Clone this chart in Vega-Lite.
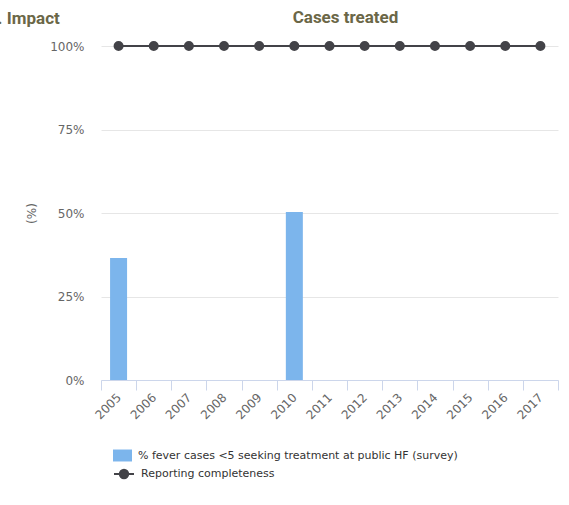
{
  "$schema": "https://vega.github.io/schema/vega-lite/v6.json",
  "width": 457,
  "height": 334,
  "autosize": "none",
  "padding": {"left": 101, "top": 46, "right": 11, "bottom": 125},
  "background": "white",
  "config": {
    "view": {"stroke": null},
    "font": "DejaVu Sans"
  },
  "data": {
    "values": [
      {"year": "2005", "fever": 36.5, "completeness": 100},
      {"year": "2006", "fever": null, "completeness": 100},
      {"year": "2007", "fever": null, "completeness": 100},
      {"year": "2008", "fever": null, "completeness": 100},
      {"year": "2009", "fever": null, "completeness": 100},
      {"year": "2010", "fever": 50.3, "completeness": 100},
      {"year": "2011", "fever": null, "completeness": 100},
      {"year": "2012", "fever": null, "completeness": 100},
      {"year": "2013", "fever": null, "completeness": 100},
      {"year": "2014", "fever": null, "completeness": 100},
      {"year": "2015", "fever": null, "completeness": 100},
      {"year": "2016", "fever": null, "completeness": 100},
      {"year": "2017", "fever": null, "completeness": 100}
    ]
  },
  "resolve": {"axis": {"x": "independent"}},
  "layer": [
    {
      "mark": {"type": "bar", "size": 17, "color": "#7cb5ec"},
      "encoding": {
        "x": {
          "field": "year",
          "type": "ordinal",
          "scale": {"paddingInner": 0, "paddingOuter": 0},
          "axis": {
            "orient": "bottom",
            "title": "C. Impact",
            "titleFont": "Roboto",
            "titleFontSize": 17,
            "titleFontWeight": "bold",
            "titleColor": "#6b6747",
            "titleAnchor": "start",
            "titleAlign": "left",
            "titleBaseline": "alphabetic",
            "titleX": -115,
            "titleY": -357,
            "labelAngle": -45,
            "labelAlign": "right",
            "labelBaseline": "middle",
            "labelFontSize": 12,
            "labelColor": "#666666",
            "labelPadding": 5,
            "domainColor": "#ccd6eb",
            "tickColor": "#ccd6eb",
            "tickSize": 10,
            "tickBand": "extent",
            "grid": false
          }
        },
        "y": {
          "field": "fever",
          "type": "quantitative",
          "scale": {"domain": [0, 100]},
          "axis": {
            "title": "(%)",
            "titleFontSize": 12,
            "titleFontWeight": "normal",
            "titleColor": "#666666",
            "titlePadding": 11,
            "values": [0, 25, 50, 75, 100],
            "labelExpr": "datum.value + '%'",
            "labelFontSize": 12,
            "labelColor": "#666666",
            "labelPadding": 17,
            "domain": false,
            "ticks": false,
            "gridColor": "#e6e6e6"
          }
        },
        "fill": {
          "datum": "% fever cases <5 seeking treatment at public HF (survey)",
          "type": "nominal",
          "scale": {"range": ["#7cb5ec"]},
          "legend": {
            "title": null,
            "orient": "none",
            "legendX": 12,
            "legendY": 400,
            "symbolType": "M-1,-0.63H1V0.63H-1Z",
            "symbolSize": 361,
            "symbolStrokeWidth": 0,
            "labelFontSize": 11,
            "labelColor": "#333333",
            "labelOffset": 6,
            "labelLimit": 0
          }
        }
      }
    },
    {
      "mark": {"type": "line", "color": "#434348", "strokeWidth": 2, "point": {"filled": true, "size": 64, "color": "#434348"}},
      "encoding": {
        "x": {
          "field": "year",
          "type": "ordinal",
          "axis": {
            "orient": "top",
            "title": "Cases treated",
            "titleFont": "Roboto",
            "titleFontSize": 17,
            "titleFontWeight": "bold",
            "titleColor": "#6b6747",
            "titleX": 244,
            "titleAlign": "center",
            "titlePadding": 20,
            "labels": false,
            "ticks": false,
            "domain": false,
            "grid": false
          }
        },
        "y": {"field": "completeness", "type": "quantitative"},
        "stroke": {
          "datum": "Reporting completeness",
          "type": "nominal",
          "scale": {"range": ["#434348"]},
          "legend": {
            "title": null,
            "orient": "none",
            "legendX": 12,
            "legendY": 417,
            "symbolType": "M-1,0H1M0.42,0A0.42,0.42 0 1 1 -0.42,0A0.42,0.42 0 1 1 0.42,0",
            "symbolSize": 400,
            "symbolFillColor": "#434348",
            "symbolStrokeWidth": 2,
            "labelFontSize": 11,
            "labelColor": "#333333",
            "labelOffset": 6,
            "labelLimit": 0
          }
        }
      }
    }
  ]
}
